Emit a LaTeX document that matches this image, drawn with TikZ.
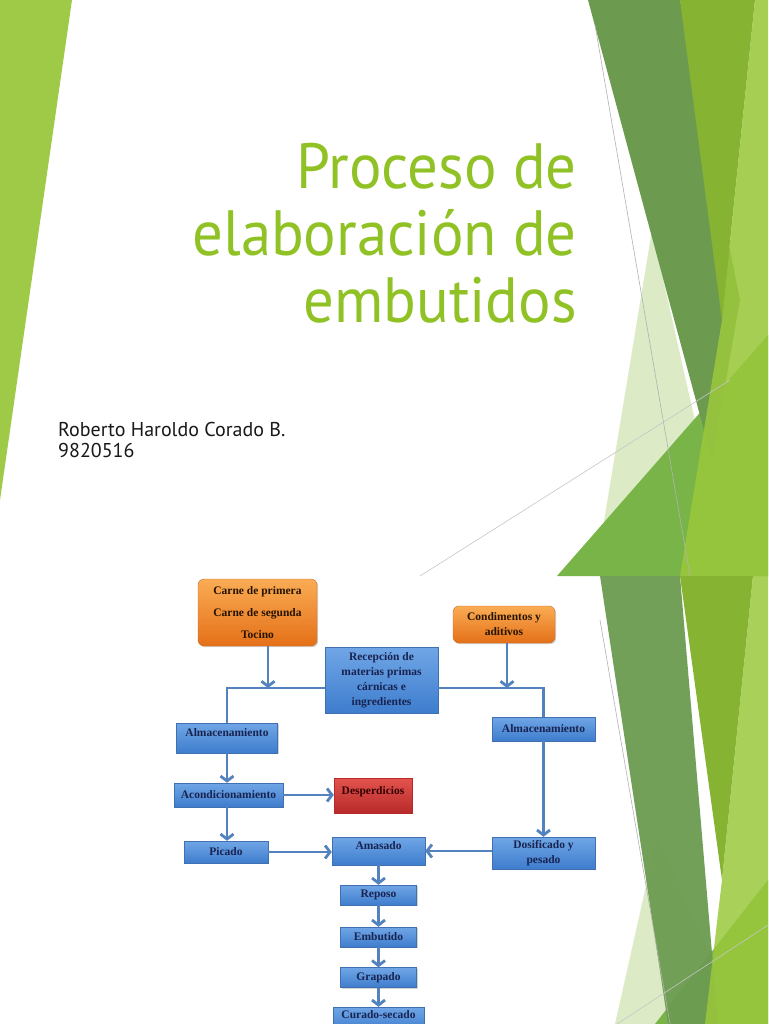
\documentclass[tikz,border=0pt]{standalone}
\usepackage{fontspec}
\setmainfont{Liberation Serif}
\newfontfamily\slidefont[FakeStretch=0.95]{PT Sans}
\newfontfamily\namefont{PT Sans}
\usetikzlibrary{arrows.meta, shadows, positioning}
\definecolor{leafA}{RGB}{159, 202, 71}
\definecolor{titleG}{RGB}{144, 194, 38}
\definecolor{darkG}{RGB}{108, 155, 80}
\definecolor{midG}{RGB}{134, 179, 50}
\definecolor{brightG}{RGB}{154, 200, 60}
\definecolor{medG}{RGB}{120, 180, 72}
\definecolor{paleG}{RGB}{220, 235, 198}
\definecolor{blueTop}{RGB}{112, 166, 230}
\definecolor{blueBot}{RGB}{62, 125, 205}
\definecolor{blueEdge}{RGB}{64, 112, 176}
\definecolor{flowB}{RGB}{84, 130, 190}
\definecolor{navyT}{RGB}{25, 35, 80}
\definecolor{orTop}{RGB}{250, 172, 84}
\definecolor{orBot}{RGB}{228, 112, 24}
\definecolor{orEdge}{RGB}{200, 110, 40}
\definecolor{redTop}{RGB}{228, 84, 78}
\definecolor{redBot}{RGB}{182, 42, 42}
\tikzset{
  stage/.style={draw=blueEdge, line width=0.4pt, top color=blueTop, bottom color=blueBot,
    text=navyT, font=\bfseries\fontsize{11.5}{15}\selectfont, align=center, inner sep=1pt,
    drop shadow={shadow xshift=1.2pt, shadow yshift=-1.2pt, opacity=0.35}},
  supply/.style={stage, draw=orEdge, top color=orTop, bottom color=orBot, text=black!85!orange,
    rounded corners=6pt},
  waste/.style={stage, draw=redBot, top color=redTop, bottom color=redBot, text=black!80!red},
  textup/.style={text depth=#1},
  flow/.style={draw=flowB, line width=2.8pt, -{Straight Barb[length=5pt, width=13pt]}},
  bus/.style={draw=flowB, line width=2.8pt}
}

\begin{document}
\begin{tikzpicture}[x=1pt, y=-1pt]
  \useasboundingbox (0,0) rectangle (768,1024);
  \fill[white] (0,0) rectangle (768,1024);

  % slide 1
  \fill[leafA] (0,0) -- (72,0) -- (0,500) -- cycle;
  \fill[paleG] (652,230) -- (730,576) -- (595,576) -- cycle;
  \fill[medG] (557,576) -- (768,335) -- (768,576) -- cycle;
  \fill[darkG] (588,0) -- (680,0) -- (740,300) -- (712,460) -- cycle;
  \fill[midG] (680,0) -- (755,0) -- (722,320) -- cycle;
  \fill[brightG, opacity=0.88] (755,0) -- (768,0) -- (768,576) -- (680,576) -- (722,320) -- cycle;
  \draw[gray!60, line width=0.6pt] (595,25) -- (690,576);
  \draw[gray!45, line width=0.6pt] (420,576) -- (730,380);

  \node[anchor=base east, align=right, inner sep=0pt, text=titleG,
    font=\slidefont\fontsize{64}{67}\selectfont]
    (title) at (577,322) {Proceso de\\elaboración de\\embutidos};
  \node[anchor=base west, align=left, inner sep=0pt, text=black!90,
    font=\namefont\fontsize{20}{21}\selectfont]
    (author) at (58,457) {Roberto Haroldo Corado B.\\9820516};

  % slide 2
  \begin{scope}
    \clip (0,576) rectangle (768,1024);
    \fill[paleG] (657,837) -- (740,1024) -- (615,1024) -- cycle;
    \fill[medG] (655,1024) -- (768,880) -- (768,1024) -- cycle;
    \fill[darkG, opacity=0.95] (600,576) -- (680,576) -- (718,1024) -- (668,1024) -- cycle;
    \fill[midG] (680,576) -- (753,576) -- (722,880) -- cycle;
    \fill[brightG, opacity=0.85] (753,576) -- (768,576) -- (768,1024) -- (705,1024) -- (722,880) -- cycle;
    \draw[gray!60, line width=0.6pt] (600,620) -- (670,1024);
    \draw[gray!45, line width=0.6pt] (617,1024) -- (768,925);
  \end{scope}

  \node[supply, minimum width=119pt, minimum height=67pt] (carne) at (257.5,612.5)
    {Carne de primera\\[7pt]Carne de segunda\\[7pt]Tocino};
  \node[supply, minimum width=102pt, minimum height=37pt] (cond) at (504,624.5)
    {Condimentos y\\aditivos};
  \node[stage, minimum width=113pt, minimum height=66pt] (recep) at (381.5,680)
    {Recepción de\\materias primas\\cárnicas e\\ingredientes};
  \node[stage, textup=11pt, minimum width=101pt, minimum height=30pt] (almL) at (227,738) {Almacenamiento};
  \node[stage, minimum width=103pt, minimum height=24pt] (almR) at (543.5,729) {Almacenamiento};
  \node[stage, minimum width=109pt, minimum height=24pt] (acond) at (228.5,795) {Acondicionamiento};
  \node[waste, textup=9pt, minimum width=78pt, minimum height=35pt] (desp) at (373,795.5) {Desperdicios};
  \node[stage, minimum width=84pt, minimum height=22pt] (picado) at (226,852) {Picado};
  \node[stage, textup=11pt, minimum width=93pt, minimum height=28pt] (amasado) at (378.5,851) {Amasado};
  \node[stage, minimum width=103pt, minimum height=32pt] (dosif) at (543.5,853) {Dosificado y\\pesado};
  \node[stage, minimum width=76pt, minimum height=20pt] (reposo) at (378.5,895) {Reposo};
  \node[stage, minimum width=76pt, minimum height=20pt] (embutido) at (378.5,937) {Embutido};
  \node[stage, minimum width=76pt, minimum height=20pt] (grapado) at (378.5,977.5) {Grapado};
  \node[stage, textup=9pt, minimum width=91pt, minimum height=24pt] (curado) at (378.5,1019) {Curado-secado};

  \coordinate (jL) at (268,688);
  \coordinate (jR) at (507,688);
  \draw[flow] (carne.south -| jL) -- (jL);
  \draw[flow] (cond.south -| jR) -- (jR);
  \draw[bus] (recep.west |- jL) -| (almL.north);
  \draw[bus] (recep.east |- jR) -| (almR.north);
  \draw[flow] (almL.south) -- (almL.south |- acond.north);
  \draw[flow] (acond.east) -- (acond.east -| desp.west);
  \draw[flow] (acond.south -| almL) -- (almL |- picado.north);
  \draw[flow] (almR) -- (dosif);
  \draw[flow] (picado.east) -- (picado.east -| amasado.west);
  \draw[flow] (dosif.west |- amasado) -- (amasado.east);
  \draw[flow] (amasado) -- (reposo);
  \draw[flow] (reposo) -- (embutido);
  \draw[flow] (embutido) -- (grapado);
  \draw[flow] (grapado) -- (curado);
\end{tikzpicture}
\end{document}
